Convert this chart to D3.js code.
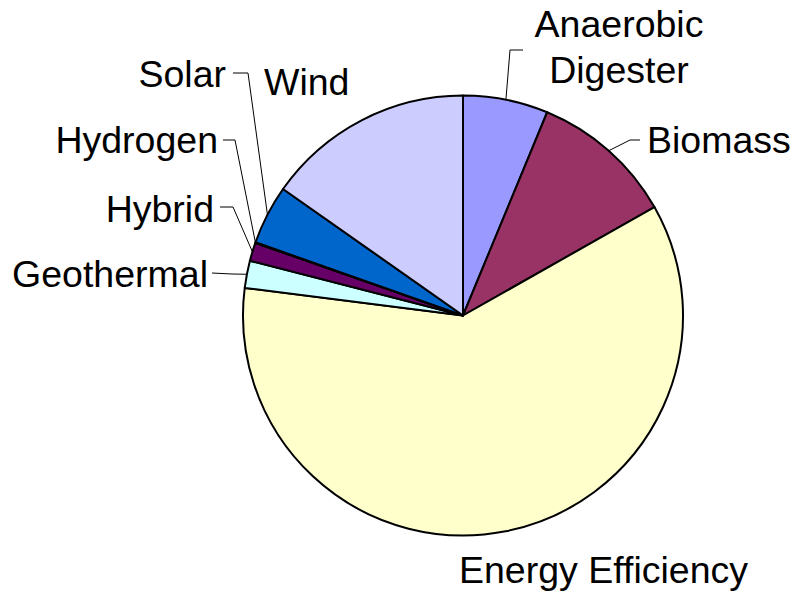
<!DOCTYPE html>
<html>
<head>
<meta charset="utf-8">
<script src="https://cdn.jsdelivr.net/npm/d3@7"></script>
<style>
  html, body { margin: 0; padding: 0; background: #fff; }
  svg text { font-family: "Liberation Sans", Arial, sans-serif; }
</style>
</head>
<body>
<div id="chart"></div>
<script>
// data (share of projects, %)
var categories = ["Anaerobic Digester", "Biomass", "Energy Efficiency", "Geothermal", "Hybrid", "Hydrogen", "Solar", "Wind"];
var values = [6.25, 10.55, 60.2, 2.0, 1.35, 0.05, 4.35, 15.25];
var colors = ["#9999FF", "#993366", "#FFFFCC", "#CCFFFF", "#660066", "#FF8080", "#0066CC", "#CCCCFF"];

// label placement: text lines, anchor, text pos, leader elbow + end (null = no leader)
var labelLayout = {
  "Anaerobic Digester": { lines: ["Anaerobic", "Digester"], anchor: "middle", x: 619, y: 37, dy: 46, leader: [[510, 50], [523, 50]] },
  "Biomass": { lines: ["Biomass"], anchor: "start", x: 647, y: 153, leader: [[630, 140], [640, 140]] },
  "Energy Efficiency": { lines: ["Energy Efficiency"], anchor: "start", x: 459, y: 583, leader: null },
  "Geothermal": { lines: ["Geothermal"], anchor: "end", x: 208, y: 287, leader: [[232, 274], [212, 273]] },
  "Hybrid": { lines: ["Hybrid"], anchor: "end", x: 214, y: 222, leader: [[233, 207], [220, 207]] },
  "Hydrogen": { lines: ["Hydrogen"], anchor: "end", x: 218, y: 153, leader: [[235, 140], [223, 140]] },
  "Solar": { lines: ["Solar"], anchor: "end", x: 226, y: 87, leader: [[248, 73], [233, 73]] },
  "Wind": { lines: ["Wind"], anchor: "start", x: 264, y: 95, leader: null }
};

var width = 799, height = 591;
var cx = 463, cy = 315.5, radius = 220;

var svg = d3.select("#chart").append("svg")
  .attr("width", width).attr("height", height);

var g = svg.append("g").attr("transform", "translate(" + cx + "," + cy + ")");

var data = categories.map(function(c, i) { return { name: c, value: values[i], color: colors[i] }; });

var pie = d3.pie().sort(null).value(function(d) { return d.value; });
var arc = d3.arc().innerRadius(0).outerRadius(radius);
var edgeArc = d3.arc().innerRadius(radius).outerRadius(radius);

var slices = pie(data);

g.selectAll("path.slice")
  .data(slices)
  .enter().append("path")
  .attr("class", "slice")
  .attr("d", arc)
  .attr("fill", function(d) { return d.data.color; })
  .attr("stroke", "#000")
  .attr("stroke-width", 2)
  .attr("stroke-linejoin", "round");

// leader lines
slices.forEach(function(s) {
  var lay = labelLayout[s.data.name];
  if (!lay.leader) return;
  var p = edgeArc.centroid(s);
  var pts = [[cx + p[0], cy + p[1]]].concat(lay.leader);
  svg.append("path")
    .attr("d", d3.line()(pts))
    .attr("fill", "none")
    .attr("stroke", "#000")
    .attr("stroke-width", 1);
});

// labels
slices.forEach(function(s) {
  var lay = labelLayout[s.data.name];
  var t = svg.append("text")
    .attr("x", lay.x).attr("y", lay.y)
    .attr("text-anchor", lay.anchor)
    .attr("font-size", 37.5)
    .attr("fill", "#000");
  lay.lines.forEach(function(line, i) {
    t.append("tspan").attr("x", lay.x).attr("dy", i === 0 ? 0 : lay.dy).text(line);
  });
});
</script>
</body>
</html>
